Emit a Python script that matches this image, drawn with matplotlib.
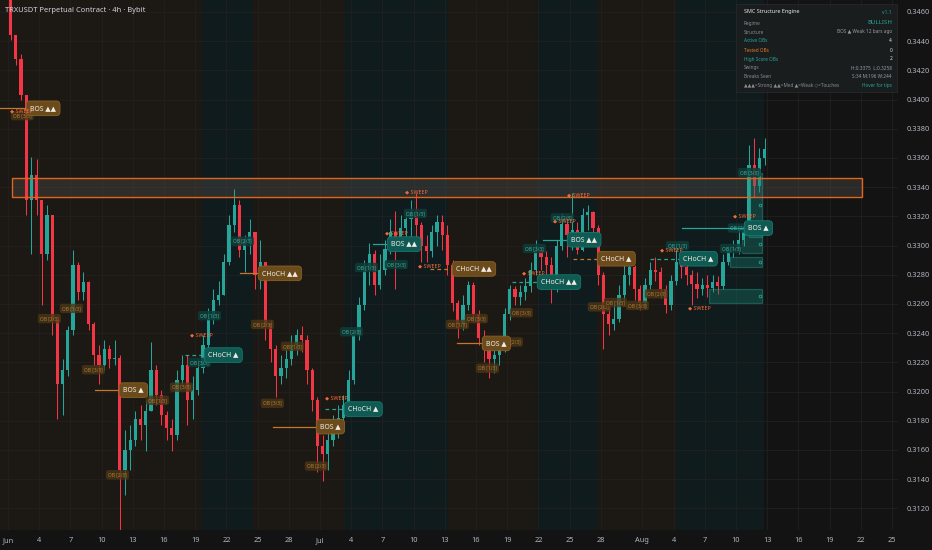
import numpy as np
import matplotlib.pyplot as plt
from matplotlib.patches import Rectangle

plt.rcParams['font.family'] = ['Noto Sans', 'DejaVu Sans']

# --- DATA (12h candles, x = days from Jun 1 00:00) ---
first_open = 0.3478
close = [0.3444, 0.3428, 0.3403, 0.3331, 0.3348, 0.3331, 0.3294, 0.3321, 0.3249, 0.3205,
         0.3215, 0.3242, 0.3287, 0.3268, 0.3275, 0.3246, 0.3225, 0.3218, 0.3229, 0.3222,
         0.3223, 0.3146, 0.3160, 0.3167, 0.3181, 0.3177, 0.3187, 0.3215, 0.3198, 0.3184,
         0.3175, 0.3170, 0.3208, 0.3218, 0.3194, 0.3201, 0.3216, 0.3232, 0.3250, 0.3263,
         0.3266, 0.3289, 0.3314, 0.3328, 0.3297, 0.3304, 0.3309, 0.3280, 0.3289, 0.3246,
         0.3229, 0.3211, 0.3216, 0.3222, 0.3232, 0.3239, 0.3235, 0.3215, 0.3194, 0.3163,
         0.3157, 0.3167, 0.3177, 0.3182, 0.3191, 0.3208, 0.3239, 0.3259, 0.3285, 0.3294,
         0.3273, 0.3283, 0.3298, 0.3309, 0.3300, 0.3312, 0.3318, 0.3321, 0.3314, 0.3300,
         0.3296, 0.3309, 0.3316, 0.3307, 0.3287, 0.3261, 0.3246, 0.3259, 0.3273, 0.3253,
         0.3237, 0.3229, 0.3222, 0.3225, 0.3229, 0.3253, 0.3270, 0.3265, 0.3268, 0.3272,
         0.3283, 0.3296, 0.3292, 0.3287, 0.3270, 0.3300, 0.3315, 0.3307, 0.3311, 0.3297,
         0.3321, 0.3323, 0.3312, 0.3280, 0.3253, 0.3246, 0.3250, 0.3266, 0.3280, 0.3285,
         0.3270, 0.3261, 0.3273, 0.3283, 0.3282, 0.3270, 0.3259, 0.3276, 0.3289, 0.3285,
         0.3280, 0.3274, 0.3270, 0.3273, 0.3271, 0.3275, 0.3272, 0.3289, 0.3297, 0.3298,
         0.3304, 0.3312, 0.3355, 0.3341, 0.3360, 0.3366]
high = [0.3482, 0.3442, 0.3431, 0.3403, 0.3361, 0.3359, 0.3331, 0.3328, 0.3321, 0.3249,
        0.3222, 0.3245, 0.3297, 0.3289, 0.3282, 0.3276, 0.3248, 0.3232, 0.3235, 0.3232,
        0.3235, 0.3225, 0.3174, 0.3177, 0.3187, 0.3191, 0.3194, 0.3234, 0.3218, 0.3201,
        0.3187, 0.3181, 0.3215, 0.3225, 0.3225, 0.3211, 0.3222, 0.3239, 0.3257, 0.3270,
        0.3276, 0.3294, 0.3321, 0.3339, 0.3331, 0.3307, 0.3318, 0.3309, 0.3304, 0.3289,
        0.3249, 0.3232, 0.3225, 0.3229, 0.3239, 0.3243, 0.3245, 0.3239, 0.3216, 0.3196,
        0.3170, 0.3181, 0.3184, 0.3191, 0.3198, 0.3215, 0.3242, 0.3265, 0.3290, 0.3302,
        0.3297, 0.3294, 0.3304, 0.3318, 0.3324, 0.3321, 0.3324, 0.3331, 0.3336, 0.3316,
        0.3307, 0.3314, 0.3321, 0.3321, 0.3314, 0.3290, 0.3263, 0.3266, 0.3276, 0.3275,
        0.3256, 0.3242, 0.3232, 0.3232, 0.3235, 0.3257, 0.3273, 0.3272, 0.3273, 0.3278,
        0.3289, 0.3304, 0.3298, 0.3296, 0.3292, 0.3304, 0.3322, 0.3321, 0.3336, 0.3316,
        0.3326, 0.3328, 0.3324, 0.3314, 0.3282, 0.3259, 0.3259, 0.3273, 0.3287, 0.3292,
        0.3287, 0.3273, 0.3278, 0.3289, 0.3292, 0.3285, 0.3273, 0.3280, 0.3299, 0.3294,
        0.3289, 0.3283, 0.3282, 0.3278, 0.3280, 0.3280, 0.3279, 0.3294, 0.3300, 0.3304,
        0.3311, 0.3316, 0.3369, 0.3374, 0.3367, 0.3374]
low = [0.3441, 0.3424, 0.3400, 0.3321, 0.3294, 0.3321, 0.3259, 0.3290, 0.3239, 0.3181,
       0.3184, 0.3211, 0.3239, 0.3263, 0.3263, 0.3242, 0.3218, 0.3205, 0.3215, 0.3216,
       0.3218, 0.3105, 0.3129, 0.3146, 0.3163, 0.3167, 0.3159, 0.3187, 0.3191, 0.3177,
       0.3167, 0.3159, 0.3167, 0.3205, 0.3177, 0.3181, 0.3198, 0.3213, 0.3229, 0.3246,
       0.3259, 0.3270, 0.3287, 0.3309, 0.3292, 0.3282, 0.3294, 0.3270, 0.3270, 0.3235,
       0.3220, 0.3196, 0.3205, 0.3209, 0.3218, 0.3225, 0.3227, 0.3205, 0.3187, 0.3145,
       0.3139, 0.3146, 0.3163, 0.3168, 0.3177, 0.3189, 0.3205, 0.3235, 0.3256, 0.3273,
       0.3266, 0.3270, 0.3280, 0.3294, 0.3270, 0.3297, 0.3300, 0.3304, 0.3300, 0.3289,
       0.3289, 0.3292, 0.3300, 0.3297, 0.3280, 0.3255, 0.3237, 0.3242, 0.3256, 0.3248,
       0.3232, 0.3220, 0.3209, 0.3213, 0.3218, 0.3227, 0.3249, 0.3259, 0.3259, 0.3263,
       0.3268, 0.3280, 0.3283, 0.3280, 0.3261, 0.3268, 0.3297, 0.3292, 0.3297, 0.3294,
       0.3296, 0.3311, 0.3307, 0.3273, 0.3229, 0.3239, 0.3242, 0.3248, 0.3263, 0.3273,
       0.3263, 0.3256, 0.3257, 0.3270, 0.3276, 0.3264, 0.3254, 0.3256, 0.3273, 0.3278,
       0.3273, 0.3259, 0.3264, 0.3266, 0.3265, 0.3268, 0.3267, 0.3270, 0.3287, 0.3292,
       0.3294, 0.3300, 0.3309, 0.3333, 0.3337, 0.3355]

# regime background spans (day edges)
regime_edges = [-0.8, 18.65, 23.56, 32.4, 42.3, 50.87, 56.63, 64.23, 72.7]
regimes = ['bear', 'bull', 'bear', 'bull', 'bear', 'bull', 'bear', 'bull']

# liquidity band
band_days = (0.38, 82.1)
band_prices = (0.33331, 0.33461)

# structure breaks: text, label day, price, side, dashed, line start day
break_text = ['BOS ▲▲', 'BOS ▲', 'CHoCH ▲▲', 'CHoCH ▲', 'BOS ▲', 'CHoCH ▲', 'BOS ▲▲',
              'CHoCH ▲▲', 'BOS ▲', 'CHoCH ▲▲', 'BOS ▲▲', 'CHoCH ▲', 'CHoCH ▲', 'BOS ▲']
break_day = [1.83, 10.77, 24.13, 18.94, 29.71, 32.4, 36.54, 42.79, 45.67, 50.96, 53.85, 56.73, 64.62, 70.87]
break_price = [0.3394, 0.3201, 0.3281, 0.3225, 0.3176, 0.3188, 0.3301, 0.3284, 0.3233, 0.3275,
               0.3304, 0.3291, 0.3291, 0.3312]
break_side = ['bear', 'bear', 'bear', 'bull', 'bear', 'bull', 'bull', 'bear', 'bear', 'bull',
              'bull', 'bear', 'bull', 'bull']
break_dashed = [False, False, False, True, False, True, False, True, False, True, False, True, True, False]
break_from = [-0.8, 8.37, 22.3, 17.02, 25.48, 30.48, 35.1, 40.58, 43.17, 48.46, 51.44, 54.33, 61.73, 64.8]

# liquidity sweeps
sweep_day = [0.19, 17.5, 30.48, 36.25, 38.17, 39.42, 49.42, 52.4, 53.75, 62.69, 65.38, 69.71]
sweep_price = [0.3392, 0.3239, 0.3196, 0.3309, 0.3337, 0.3286, 0.3281, 0.3317, 0.3335, 0.3297,
               0.3257, 0.3320]

# order block tags
ob_bear_day = [0.48, 3.08, 5.19, 7.31, 9.62, 13.46, 15.77, 23.56, 26.44, 24.52, 28.75, 42.31,
               44.13, 47.5, 45.19, 48.46, 55.96, 57.5, 59.62, 61.44]
ob_bear_price = [0.3389, 0.3250, 0.3257, 0.3215, 0.3143, 0.3194, 0.3203, 0.3246, 0.3231, 0.3192,
                 0.3149, 0.3246, 0.3250, 0.3234, 0.3216, 0.3254, 0.3258, 0.3261, 0.3259, 0.3267]
ob_bull_day = [18.46, 17.5, 21.63, 33.56, 36.44, 32.12, 38.27, 49.71, 52.4, 63.46, 70.38, 69.42, 68.65]
ob_bull_price = [0.3252, 0.3220, 0.3303, 0.3285, 0.3287, 0.3241, 0.3322, 0.3298, 0.3319, 0.3300,
                 0.3350, 0.3312, 0.3298]
ob_texts = ['OB [3/3]', 'OB [2/3]', 'OB [1/3]']

# active bullish order block zones: day0, day1, bottom, top
zone_d0 = [70.6, 69.4, 67.4, 71.3]
zone_d1 = [72.5, 72.5, 72.5, 72.5]
zone_lo = [0.3295, 0.3285, 0.3261, 0.3306]
zone_hi = [0.3307, 0.3292, 0.3270, 0.3350]

tick_days = [0, 3, 6, 9, 12, 15, 18, 21, 24, 27, 30, 33, 36, 39, 42, 45, 48, 51, 54, 57,
             61, 64, 67, 70, 73, 76, 79, 82, 85]
tick_labels = ['Jun', '4', '7', '10', '13', '16', '19', '22', '25', '28', 'Jul', '4', '7', '10',
               '13', '16', '19', '22', '25', '28', 'Aug', '4', '7', '10', '13', '16', '19', '22', '25']
price_ticks = [0.3120, 0.3140, 0.3160, 0.3180, 0.3200, 0.3220, 0.3240, 0.3260, 0.3280, 0.3300,
               0.3320, 0.3340, 0.3360, 0.3380, 0.3400, 0.3420, 0.3440, 0.3460]

table_rows = [('Regime', 'BULLISH'), ('Structure', 'BOS ▲ Weak 12 bars ago'), ('Active OBs', '4'),
              ('Tested OBs', '0'), ('High Score OBs', '2'), ('Swings', 'H:0.3375  L:0.3258'),
              ('Breaks Seen', 'S:34 M:196 W:244'),
              ('▲▲▲=Strong ▲▲=Med ▲=Weak ◇=Touches', 'Hover for tips')]

# --- STYLE ---
BG = '#131313'
BULL = '#26a69a'
BEAR = '#f23645'
BROWN_BG = '#1c1813'
TEAL_BG = '#0f1b1c'

fig = plt.figure(figsize=(9.32, 5.5), dpi=100, facecolor=BG)
ax = fig.add_axes([0, 20 / 550, 898 / 932, 530 / 550], facecolor=BG)
ax.set_xlim(-0.77, 85.58)
ax.set_ylim(0.31052, 0.34682)

# regime shading
for i, r in enumerate(regimes):
    ax.axvspan(regime_edges[i], regime_edges[i + 1], color=BROWN_BG if r == 'bear' else TEAL_BG,
               lw=0, zorder=0.2)

ax.set_xticks(tick_days)
ax.set_xticklabels(tick_labels)
ax.yaxis.tick_right()
ax.set_yticks(price_ticks)
ax.set_yticklabels([f'{p:.4f}' for p in price_ticks])
ax.tick_params(axis='x', length=0, pad=5, labelsize=5.3, colors='#b2b5be')
ax.tick_params(axis='y', length=0, pad=6.5, labelsize=5.3, colors='#b2b5be')
ax.grid(True, color='#212121', lw=0.6)
ax.set_axisbelow(True)
for s in ax.spines.values():
    s.set_visible(False)

# band
ax.add_patch(Rectangle((band_days[0], band_prices[0]), band_days[1] - band_days[0],
                       band_prices[1] - band_prices[0], fc='#4a4745', alpha=0.45, lw=0, zorder=1))
ax.add_patch(Rectangle((band_days[0], band_prices[0]), band_days[1] - band_days[0],
                       band_prices[1] - band_prices[0], fill=False, ec='#e2651d', lw=1.0, zorder=3.5))

# candles
c = np.array(close)
t = 0.25 + 0.5 * np.arange(len(c))
o = np.r_[first_open, c[:-1]]
hi = np.maximum(np.array(high), np.maximum(o, c))
lo = np.minimum(np.array(low), np.minimum(o, c))
col = np.where(c >= o, BULL, BEAR)
ax.vlines(t, lo, hi, colors=col, lw=0.75, zorder=2)
ax.bar(t, np.maximum(np.abs(c - o), 0.00004), bottom=np.minimum(o, c), width=0.3,
       color=col, lw=0, zorder=2.1)

# active OB zones
for d0, d1, lo_, hi_ in zip(zone_d0, zone_d1, zone_lo, zone_hi):
    ax.add_patch(Rectangle((d0, lo_), d1 - d0, hi_ - lo_, fc='#1b7d72', alpha=0.35,
                           ec='#2bb3a3', lw=0.9, zorder=2.5))
    ax.plot(d1 - 0.15, (lo_ + hi_) / 2, 'o', ms=2, mfc='none', mec='#2bb3a3', mew=0.5, zorder=2.6)

# order block tags
for i, (d, p) in enumerate(zip(ob_bear_day, ob_bear_price)):
    ax.text(d, p, ob_texts[i % 3], fontsize=3.5, color='#b07e33', ha='left', va='center', zorder=3,
            bbox=dict(boxstyle='round,pad=0.45', fc='#4a3617', ec='none', alpha=0.8))
for i, (d, p) in enumerate(zip(ob_bull_day, ob_bull_price)):
    ax.text(d, p, ob_texts[(i + 2) % 3], fontsize=3.5, color='#3fae9e', ha='left', va='center', zorder=3,
            bbox=dict(boxstyle='round,pad=0.45', fc='#0f3b37', ec='none', alpha=0.85))

# structure breaks
for txt, d, p, side, dashed, d0 in zip(break_text, break_day, break_price, break_side,
                                        break_dashed, break_from):
    lc = '#c8772a' if side == 'bear' else '#26a69a'
    ax.plot([d0, d], [p, p], color=lc, lw=0.9, ls=(0, (3, 2.5)) if dashed else '-', zorder=4)
    fc = '#6b4a1c' if side == 'bear' else '#0f5a52'
    ec = '#8a6126' if side == 'bear' else '#16796e'
    ax.text(d + 0.3, p, txt, fontsize=5.0, color='#f0ece4', ha='left', va='center', zorder=5,
            fontweight='bold',
            bbox=dict(boxstyle='round,pad=0.55', fc=fc, ec=ec, lw=0.6))

# sweeps
for d, p in zip(sweep_day, sweep_price):
    ax.text(d, p, '◆ SWEEP', fontsize=3.9, color='#ef6b3b', ha='left', va='center', zorder=5)

# title
fig.text(5 / 932, 1 - 10 / 550, 'TRXUSDT Perpetual Contract · 4h · Bybit', fontsize=5.4,
         color='#d1d4dc', ha='left', va='center')

# info table
fig.add_artist(Rectangle((736 / 932, 1 - 92 / 550), 161 / 932, 88 / 550, transform=fig.transFigure,
                         fc='#1b1e1f', ec='#262a2b', lw=0.6, alpha=0.95, zorder=10))
fig.text(744 / 932, 1 - 12 / 550, 'SMC Structure Engine', fontsize=3.9, color='#e8e8e8',
         fontweight='bold', ha='left', va='center', zorder=11)
fig.text(892 / 932, 1 - 12 / 550, 'v1.1', fontsize=3.5, color='#26a69a', ha='right', va='center', zorder=11)
row_y = [23, 32, 41, 50, 59, 68, 77, 86]
left_cols = ['#8a8d92', '#8a8d92', '#26a69a', '#e07a25', '#26a69a', '#8a8d92', '#8a8d92', '#8a8d92']
right_cols = ['#26a69a', '#9a9da2', '#e8e8e8', '#e8e8e8', '#e8e8e8', '#9a9da2', '#9a9da2', '#26a69a']
for (lt, rt), yy, lc, rc in zip(table_rows, row_y, left_cols, right_cols):
    fig.text(744 / 932, 1 - yy / 550, lt, fontsize=3.4, color=lc, ha='left', va='center', zorder=11)
    fig.text(892 / 932, 1 - yy / 550, rt, fontsize=4.4 if rt == 'BULLISH' else 3.4, color=rc,
             fontweight='bold' if rt in ('BULLISH', '4', '0', '2') else 'normal',
             ha='right', va='center', zorder=11)

fig.savefig('out.png', dpi=100, facecolor=BG)
